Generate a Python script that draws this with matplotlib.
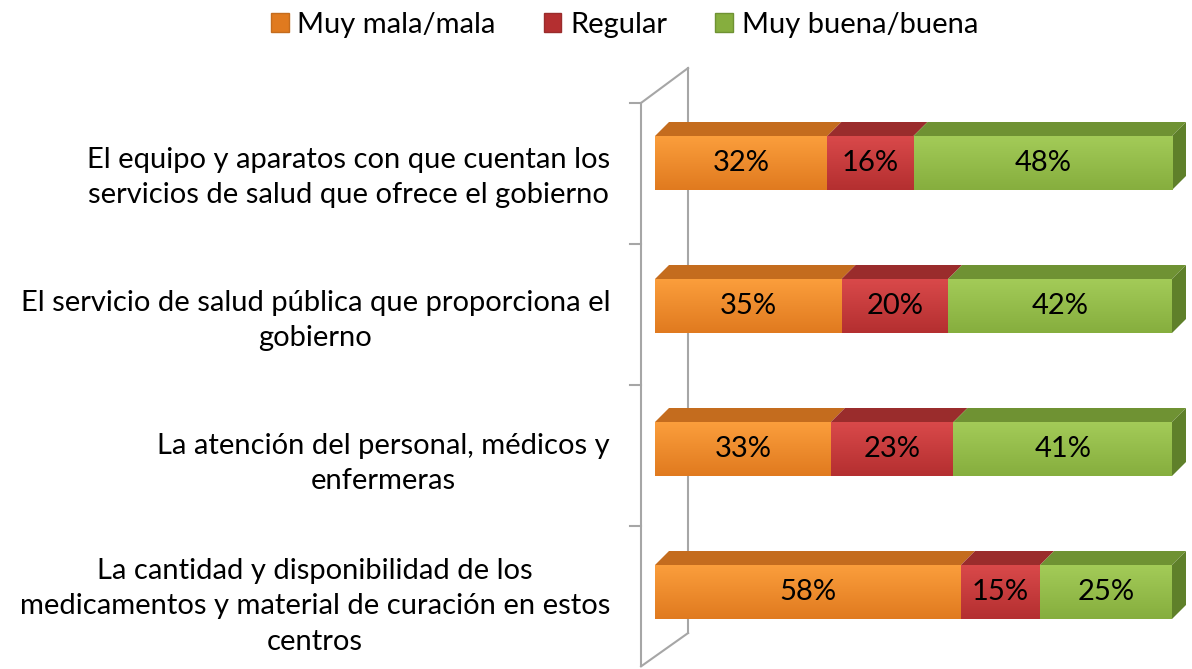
import numpy as np
import matplotlib
matplotlib.use("Agg")
import matplotlib.pyplot as plt
from matplotlib.patches import Polygon, Patch
from matplotlib.colors import to_rgb

# ── Data ──────────────────────────────────────────────────────────────────────
categories = [
    "El equipo y aparatos con que cuentan los\nservicios de salud que ofrece el gobierno",
    "El servicio de salud pública que proporciona el\ngobierno",
    "La atención del personal, médicos y\nenfermeras",
    "La cantidad y disponibilidad de los\nmedicamentos y material de curación en estos\ncentros",
]
series_names = ["Muy mala/mala", "Regular", "Muy buena/buena"]
mala = [32, 35, 33, 58]
regular = [16, 20, 23, 15]
buena = [48, 42, 41, 25]

# ── Style ─────────────────────────────────────────────────────────────────────
FONT = "Lato"
FS = 21
front_top = ["#FB9E3C", "#D9494A", "#A3CB58"]
front_bot = ["#E07A1F", "#B42F30", "#86AE3E"]
top_cols = ["#C46C1E", "#9A2C2C", "#6F9233"]
side_col = "#5F802A"
wall_col = "#A6A6A6"

W, H = 1192, 669
fig = plt.figure(figsize=(W / 100, H / 100), dpi=100)
ax = fig.add_axes([655 / W, 1 - 663.5 / H, 517 / W, 572 / H])
ax.set_xlim(0, 100)
ax.set_ylim(3.5, -0.5)
ax.axis("off")

bar_h = 54 / 143
dx = 14 / 517 * 100
dy = 14 / 143

series = [mala, regular, buena]
for i in range(len(categories)):
    tot = sum(s[i] for s in series)
    left = 0.0
    top = i - bar_h / 2
    bot = i + bar_h / 2
    for k, s in enumerate(series):
        w = s[i] / tot * 100
        x0, x1 = left, left + w
        # top face
        ax.add_patch(Polygon([(x0, top), (x1, top), (x1 + dx, top - dy), (x0 + dx, top - dy)],
                             closed=True, facecolor=top_cols[k], edgecolor="none",
                             zorder=2, clip_on=False))
        # front face with vertical gradient
        c1, c2 = np.array(to_rgb(front_top[k])), np.array(to_rgb(front_bot[k]))
        t = np.linspace(0, 1, 64)[:, None]
        grad = (c1 * (1 - t) + c2 * t)[:, None, :]
        ax.imshow(grad, extent=(x0, x1, bot, top), aspect="auto",
                  interpolation="bilinear", zorder=3, clip_on=False)
        ax.text((x0 + x1) / 2, i, f"{s[i]}%", ha="center", va="center",
                fontsize=FS, family=FONT, color="black", zorder=5)
        left = x1
    # right end side face
    ax.add_patch(Polygon([(100, top), (100 + dx, top - dy), (100 + dx, bot - dy), (100, bot)],
                         closed=True, facecolor=side_col, edgecolor="none",
                         zorder=2, clip_on=False))
    # category label
    ax.text(-8.7, i + 0.1, categories[i], ha="right", va="center",
            multialignment="center", fontsize=FS, family=FONT, linespacing=1.45,
            color="black")

# back wall outline and ticks
fx, bx = -2.7, 6.4
fy0, fy1 = -0.42, 3.52
by0, by1 = -0.664, 3.287
ax.plot([fx, fx], [fy0, fy1], color=wall_col, lw=1.5, clip_on=False, zorder=1)
ax.plot([bx, bx], [by0, by1], color=wall_col, lw=1.5, clip_on=False, zorder=1)
ax.plot([fx, bx], [fy0, by0], color=wall_col, lw=1.5, clip_on=False, zorder=1)
ax.plot([fx, bx], [fy1, by1], color=wall_col, lw=1.5, clip_on=False, zorder=1)
for ty in np.linspace(fy0, fy1, 5)[:-1]:
    ax.plot([-4.84, fx], [ty, ty], color=wall_col, lw=1.5, clip_on=False, zorder=1)

handles = [Patch(facecolor=front_bot[k], edgecolor=top_cols[k]) for k in range(3)]
fig.legend(handles, series_names, loc="center", bbox_to_anchor=(0.524, 1 - 25 / H),
           ncol=3, frameon=False, prop={"family": FONT, "size": FS},
           handlelength=0.6, handleheight=0.6, handletextpad=0.3, columnspacing=1.65)

fig.savefig("out.png", dpi=100)
